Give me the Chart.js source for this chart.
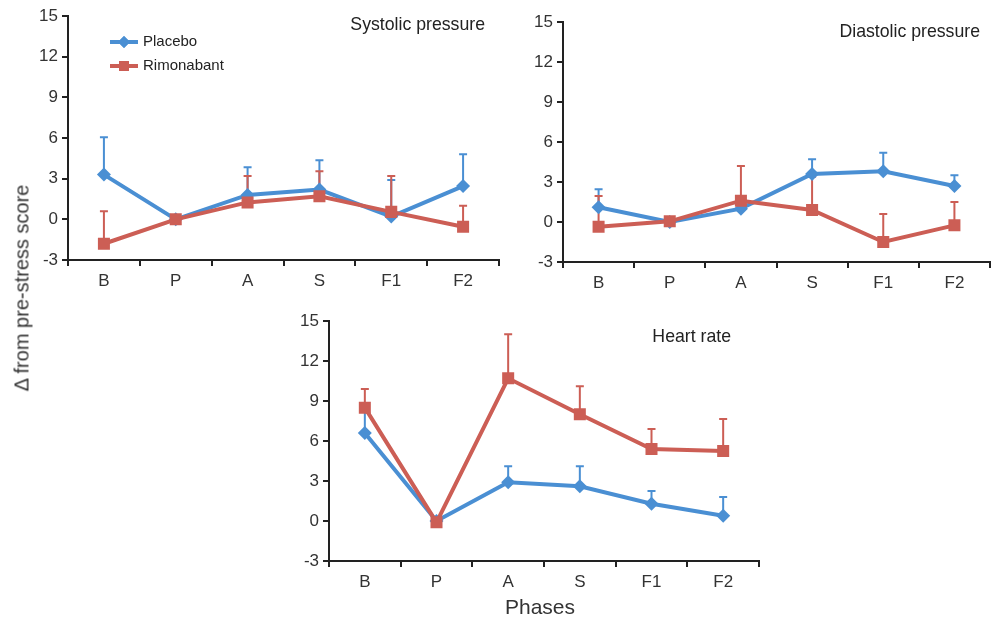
<!DOCTYPE html>
<html>
<head>
<meta charset="utf-8">
<script src="https://cdn.jsdelivr.net/npm/chart.js@4.4.1/dist/chart.umd.min.js"></script>
<style>
  body { margin: 0; background: #fff; }
  #wrap { position: relative; width: 992px; height: 629px; overflow: hidden; font-family: "Liberation Sans", Arial, sans-serif; }
  canvas { position: absolute; }
  #ytitle { position: absolute; left: 22px; top: 288px; transform: translate(-50%, -50%) rotate(-90deg); font-size: 20px; color: #333; white-space: nowrap; }
  #xtitle { position: absolute; left: 540px; top: 607px; transform: translate(-50%, -50%); font-size: 21px; color: #333; white-space: nowrap; }
</style>
</head>
<body>
<div id="wrap">
  <canvas id="sys" width="500" height="300" style="left:0;top:0"></canvas>
  <canvas id="dia" width="500" height="300" style="left:492px;top:0"></canvas>
  <canvas id="hr" width="500" height="300" style="left:260px;top:300px"></canvas>
  <div id="ytitle">Δ from pre-stress score</div>
  <div id="xtitle">Phases</div>
</div>
<script>
// Phases on the x axis
const phases = ['B', 'P', 'A', 'S', 'F1', 'F2'];
const yTickValues = [-3, 0, 3, 6, 9, 12, 15];

// Mean change and SEM (upper bar only)
const sysPlacebo = [3.3, 0, 1.8, 2.2, 0.2, 2.45];
const sysPlaceboSem = [2.75, 0, 2.05, 2.15, 2.7, 2.35];
const sysRimonabant = [-1.8, 0, 1.25, 1.7, 0.55, -0.55];
const sysRimonabantSem = [2.4, 0, 1.95, 1.85, 2.65, 1.55];

const diaPlacebo = [1.1, 0, 1.0, 3.6, 3.8, 2.7];
const diaPlaceboSem = [1.35, 0, 0.75, 1.1, 1.4, 0.8];
const diaRimonabant = [-0.35, 0.05, 1.6, 0.9, -1.5, -0.25];
const diaRimonabantSem = [2.3, 0, 2.6, 2.5, 2.1, 1.75];

const hrPlacebo = [6.6, 0, 2.9, 2.6, 1.3, 0.4];
const hrPlaceboSem = [1.7, 0, 1.2, 1.5, 0.95, 1.4];
const hrRimonabant = [8.5, -0.1, 10.7, 8.0, 5.4, 5.25];
const hrRimonabantSem = [1.4, 0, 3.3, 2.1, 1.5, 2.4];

const blue = '#4a8fd3';
const red = '#cc5e55';
const axisColor = '#222';
const fontFamily = '"Liberation Sans", Arial, sans-serif';

// draws the upper error bars under the lines
const errorBars = {
  id: 'errorBars',
  beforeDatasetsDraw(chart) {
    const ctx = chart.ctx;
    const yScale = chart.scales.y;
    chart.data.datasets.forEach((ds, i) => {
      const meta = chart.getDatasetMeta(i);
      ctx.save();
      ctx.strokeStyle = ds.borderColor;
      ctx.lineWidth = 2;
      meta.data.forEach((pt, j) => {
        const sem = ds.sem[j];
        if (!sem) return;
        const yTop = yScale.getPixelForValue(ds.data[j] + sem);
        ctx.beginPath();
        ctx.moveTo(pt.x, pt.y);
        ctx.lineTo(pt.x, yTop);
        ctx.moveTo(pt.x - 4, yTop);
        ctx.lineTo(pt.x + 4, yTop);
        ctx.stroke();
      });
      ctx.restore();
    });
  }
};

// panel title in the top right corner, and the legend when asked
const panelText = {
  id: 'panelText',
  afterDraw(chart, args, opts) {
    const ctx = chart.ctx;
    ctx.save();
    ctx.fillStyle = '#222';
    ctx.font = '17.7px ' + fontFamily;
    ctx.textAlign = 'right';
    ctx.textBaseline = 'middle';
    ctx.fillText(opts.title, opts.titleX, opts.titleY);
    if (opts.legend) {
      const items = [
        { label: 'Placebo', color: blue, style: 'rectRot', r: 6 },
        { label: 'Rimonabant', color: red, style: 'rect', r: 7 }
      ];
      items.forEach((it, k) => {
        const y = opts.legend.y + k * 24;
        const x = opts.legend.x;
        ctx.strokeStyle = it.color;
        ctx.lineWidth = 4;
        ctx.beginPath();
        ctx.moveTo(x, y);
        ctx.lineTo(x + 28, y);
        ctx.stroke();
        ctx.fillStyle = it.color;
        Chart.helpers.drawPoint(ctx, { pointStyle: it.style, radius: it.r, borderWidth: 0 }, x + 14, y);
        ctx.fill();
        ctx.fillStyle = '#222';
        ctx.textAlign = 'left';
        ctx.font = '15px ' + fontFamily;
        ctx.fillText(it.label, x + 33, y);
      });
    }
    ctx.restore();
  }
};

function makePanel(id, placebo, placeboSem, rim, rimSem, p) {
  new Chart(document.getElementById(id), {
    type: 'line',
    data: {
      labels: phases,
      datasets: [
        { label: 'Placebo', data: placebo, sem: placeboSem, borderColor: blue, backgroundColor: blue,
          borderWidth: 4, pointStyle: 'rectRot', pointRadius: 7, pointBorderWidth: 0, tension: 0, order: 1 },
        { label: 'Rimonabant', data: rim, sem: rimSem, borderColor: red, backgroundColor: red,
          borderWidth: 4, pointStyle: 'rect', pointRadius: 8.5, pointBorderWidth: 0, tension: 0, order: 0 }
      ]
    },
    options: {
      responsive: false,
      animation: false,
      events: [],
      layout: { autoPadding: false, padding: { top: p.top, right: p.right, left: 0, bottom: 0 } },
      plugins: {
        legend: { display: false },
        tooltip: { enabled: false },
        panelText: { title: p.title, titleX: p.titleX, titleY: p.titleY, legend: p.legend }
      },
      scales: {
        x: {
          offset: true,
          afterFit: s => { s.height = p.xh; s.paddingLeft = 0; s.paddingRight = 0; },
          grid: { offset: true, drawOnChartArea: false, color: axisColor, lineWidth: 2, tickLength: 6 },
          border: { color: axisColor, width: 2 },
          ticks: { color: '#333', font: { size: 17, family: fontFamily }, padding: 5, maxRotation: 0 }
        },
        y: {
          min: yTickValues[0],
          max: yTickValues[yTickValues.length - 1],
          afterFit: s => { s.width = p.yw; s.paddingTop = 0; s.paddingBottom = 0; },
          afterBuildTicks: s => { s.ticks = yTickValues.map(v => ({ value: v })); },
          grid: { drawOnChartArea: false, color: axisColor, lineWidth: 2, tickLength: 6 },
          border: { color: axisColor, width: 2 },
          ticks: { color: '#333', font: { size: 17, family: fontFamily }, padding: 4 }
        }
      }
    },
    plugins: [errorBars, panelText]
  });
}

makePanel('sys', sysPlacebo, sysPlaceboSem, sysRimonabant, sysRimonabantSem,
  { top: 16, right: 1, yw: 68, xh: 40, title: 'Systolic pressure', titleX: 485, titleY: 25,
    legend: { x: 110, y: 42 } });
makePanel('dia', diaPlacebo, diaPlaceboSem, diaRimonabant, diaRimonabantSem,
  { top: 22, right: 2, yw: 71, xh: 38, title: 'Diastolic pressure', titleX: 488, titleY: 32 });
makePanel('hr', hrPlacebo, hrPlaceboSem, hrRimonabant, hrRimonabantSem,
  { top: 21, right: 1, yw: 69, xh: 39, title: 'Heart rate', titleX: 471, titleY: 37 });
</script>
</body>
</html>
